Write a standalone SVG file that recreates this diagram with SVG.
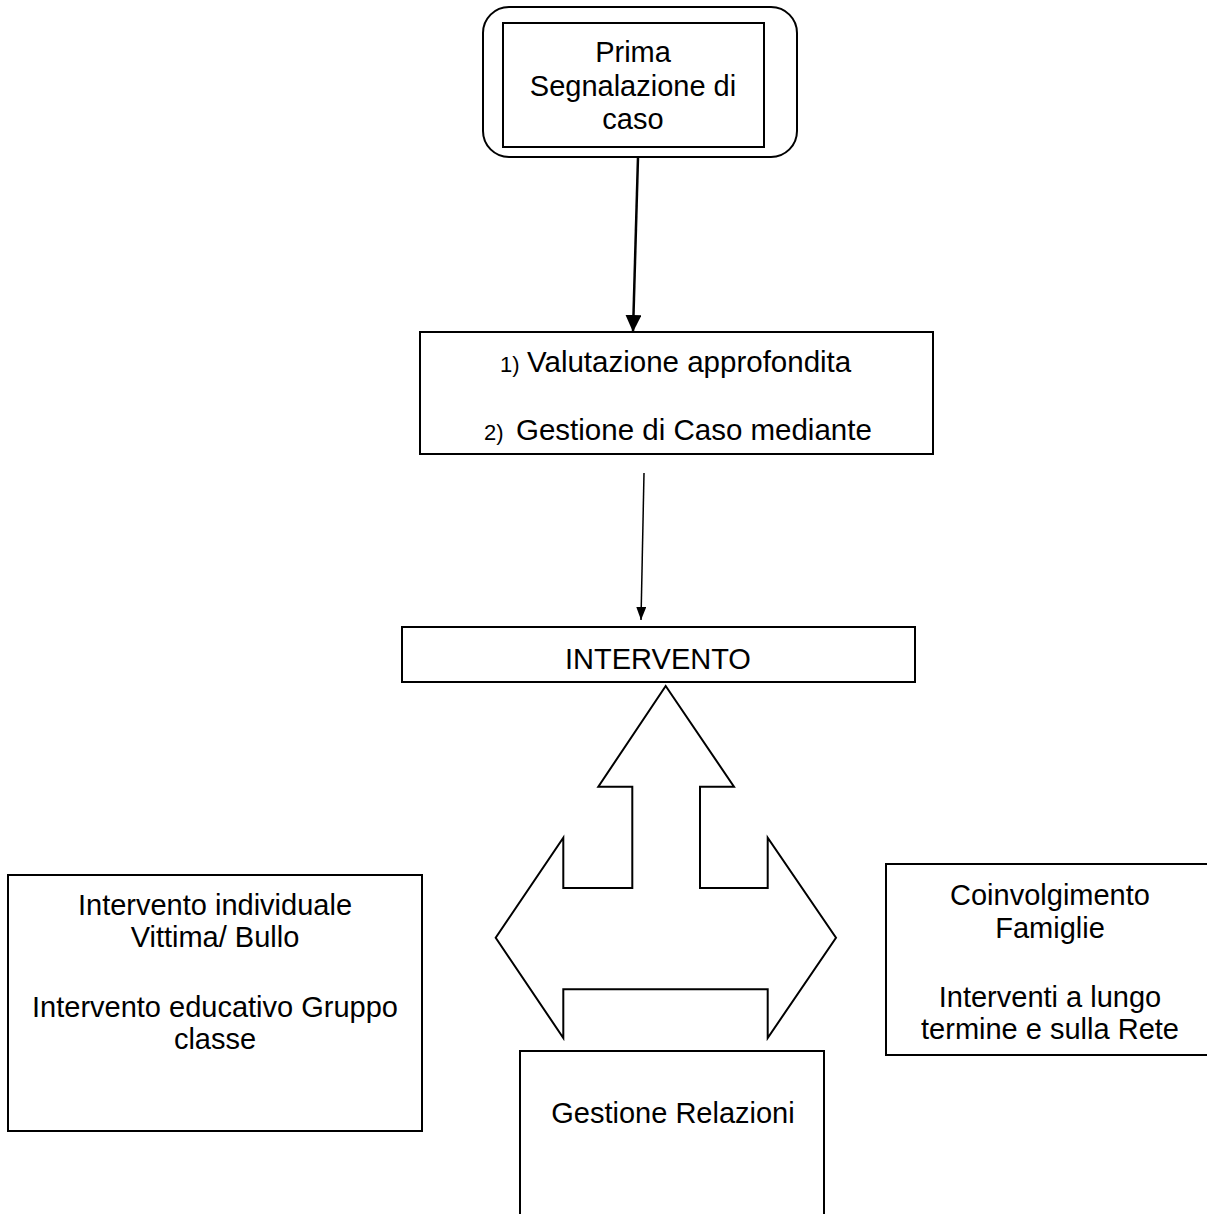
<svg xmlns="http://www.w3.org/2000/svg" width="1207" height="1214" viewBox="0 0 1207 1214">
<style>
.box{fill:#fff;stroke:#000;stroke-width:2}
.t{font-family:"Liberation Sans",Arial,sans-serif;font-size:29px;fill:#000;text-anchor:middle}
.s{font-family:"Liberation Sans",Arial,sans-serif;font-size:22px;fill:#000}
.l{font-family:"Liberation Sans",Arial,sans-serif;font-size:29.5px;fill:#000}
</style>
<defs>
<marker id="ah1" markerUnits="userSpaceOnUse" markerWidth="18" markerHeight="16" refX="17" refY="8" orient="auto" viewBox="0 0 18 16">
<path d="M0,0 L17,8 L0,16 Z" fill="#000"/>
</marker>
<marker id="ah2" markerUnits="userSpaceOnUse" markerWidth="14" markerHeight="10" refX="13" refY="5" orient="auto" viewBox="0 0 14 10">
<path d="M0,0 L13,5 L0,10 Z" fill="#000"/>
</marker>
</defs>
<rect width="1207" height="1214" fill="#fff"/>
<g id="n1">
<rect x="483" y="7" width="314" height="150" rx="26" ry="26" class="box"/>
<rect x="503" y="23" width="261" height="124" class="box"/>
<text class="t" x="633" y="62">Prima</text>
<text class="t" x="633" y="96">Segnalazione di</text>
<text class="t" x="633" y="129">caso</text>
</g>
<g id="n2">
<rect x="420" y="332" width="513" height="122" class="box"/>
<text x="500" y="372"><tspan class="s">1)</tspan><tspan class="l" x="527">Valutazione approfondita</tspan></text>
<text x="484" y="440"><tspan class="s">2)</tspan><tspan class="l" x="516">Gestione di Caso mediante</tspan></text>
</g>
<g id="n3">
<rect x="402" y="627" width="513" height="55" class="box"/>
<text class="t" x="658" y="669">INTERVENTO</text>
</g>
<g id="n4">
<rect x="8" y="875" width="414" height="256" class="box"/>
<text class="t" x="215" y="915">Intervento individuale</text>
<text class="t" x="215" y="947">Vittima/ Bullo</text>
<text class="t" x="215" y="1017">Intervento educativo Gruppo</text>
<text class="t" x="215" y="1049">classe</text>
</g>
<g id="n5">
<rect x="886" y="864" width="330" height="191" class="box"/>
<text class="t" x="1050" y="905">Coinvolgimento</text>
<text class="t" x="1050" y="938">Famiglie</text>
<text class="t" x="1050" y="1007">Interventi a lungo</text>
<text class="t" x="1050" y="1039">termine e sulla Rete</text>
</g>
<g id="n6">
<rect x="520" y="1051" width="304" height="180" class="box"/>
<text class="t" x="673" y="1123">Gestione Relazioni</text>
</g>
<g id="connectors">
<line x1="638" y1="157" x2="633" y2="332" stroke="#000" stroke-width="2.5" marker-end="url(#ah1)"/>
<line x1="644" y1="473" x2="641" y2="620" stroke="#000" stroke-width="1.5" marker-end="url(#ah2)"/>
<path d="M665.7,686 L734,786.7 L700,786.7 L700,888 L767.7,888 L767.7,837.7 L836,937.7 L767.7,1038 L767.7,989.3 L563.3,989.3 L563.3,1038 L495.7,937.7 L563.3,837.7 L563.3,888 L632.3,888 L632.3,786.7 L598.3,786.7 Z" fill="#fff" stroke="#000" stroke-width="2" stroke-linejoin="miter"/>
</g>
</svg>
